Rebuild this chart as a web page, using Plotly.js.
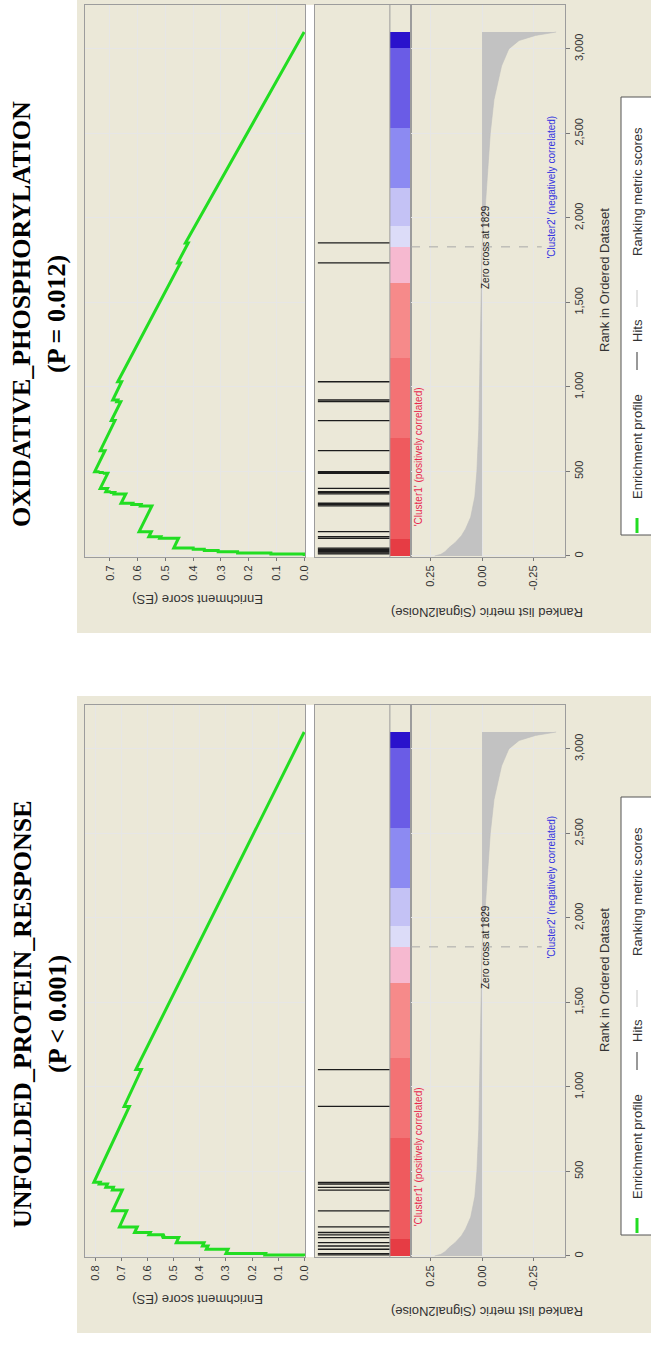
<!DOCTYPE html>
<html><head><meta charset="utf-8">
<script src="https://cdn.plot.ly/plotly-3.0.1.min.js"></script>
<style>html,body{margin:0;padding:0;background:#fff}</style>
</head><body><div id="chart" style="width:651px;height:1345px"></div>
<script>
// ---------------- DATA ----------------
const N_GENES = 3100;
const zeroCross = 1829;

// Ranked list metric (Signal2Noise), shared ranked list
const metricRank  = [0, 10, 25, 50, 80, 120, 160, 230, 350, 500, 750, 1000, 1300, 1600, 1829, 2000, 2200, 2500, 2700, 2900, 3000, 3050, 3080, 3100];
const metricValue = [0.23, 0.20, 0.18, 0.16, 0.13, 0.10, 0.08, 0.055, 0.035, 0.025, 0.016, 0.012, 0.008, 0.004, 0, -0.012, -0.022, -0.04, -0.058, -0.095, -0.13, -0.18, -0.26, -0.36];

// Colour bar bands (rank ranges)
const bandStart = [0, 100, 701, 1170, 1615, 1829, 1950, 2175, 2535, 3008];
const bandEnd   = [100, 701, 1170, 1615, 1829, 1950, 2175, 2535, 3008, 3100];
const bandColor = ['#e63c44', '#ef5a5e', '#f37274', '#f68a8a', '#f6b9d0', '#dcdcf8', '#c4c2f5', '#8c8af2', '#6a5ce6', '#2a12cc'];

// OXIDATIVE_PHOSPHORYLATION
const oxHits     = [12, 18, 25, 32, 40, 47, 105, 114, 144, 296, 304, 312, 367, 375, 380, 400, 489, 494, 499, 623, 801, 913, 923, 1031, 1734, 1852];
const oxEsBefore = [0.0, 0.12, 0.24, 0.31, 0.36, 0.40, 0.453, 0.517, 0.551, 0.549, 0.588, 0.618, 0.643, 0.683, 0.698, 0.709, 0.708, 0.723, 0.738, 0.718, 0.682, 0.661, 0.672, 0.658, 0.446, 0.418];
const oxEsAfter  = [0.12, 0.24, 0.31, 0.36, 0.40, 0.47, 0.52, 0.56, 0.595, 0.59, 0.62, 0.66, 0.685, 0.70, 0.715, 0.735, 0.725, 0.74, 0.755, 0.735, 0.695, 0.675, 0.69, 0.672, 0.456, 0.428];

// UNFOLDED_PROTEIN_RESPONSE
const upHits     = [6, 14, 40, 59, 79, 109, 125, 139, 172, 267, 390, 406, 426, 436, 885, 1103];
const upEsBefore = [0.0, 0.148, 0.292, 0.369, 0.384, 0.481, 0.536, 0.59, 0.64, 0.68, 0.697, 0.731, 0.754, 0.782, 0.670, 0.624];
const upEsAfter  = [0.15, 0.30, 0.375, 0.39, 0.49, 0.545, 0.595, 0.65, 0.708, 0.734, 0.735, 0.76, 0.785, 0.806, 0.69, 0.645];

const rankTicks = [0, 500, 1000, 1500, 2000, 2500, 3000];
const metricTicks = [-0.25, 0, 0.25];
const metricTickText = ['-0.25', '0.00', '0.25'];

// ---------------- LAYOUT HELPERS ----------------
const W = 651, H = 1345;
const fx = p => p / W;
const fy = p => 1 - p / H;
const FONT = 'Liberation Sans, Arial, sans-serif';
const GREEN = '#22dd22';
const GRID = '#e6e6e6';
const FRAME = '#9c9c9c';

const traces = [];
const layout = {
  width: W, height: H,
  margin: {l: 0, r: 0, t: 0, b: 0},
  paper_bgcolor: '#ffffff', plot_bgcolor: '#ffffff',
  showlegend: false,
  font: {family: FONT, size: 11, color: '#333'},
  shapes: [], annotations: [], bargap: 0
};

function ax(n, letter) { return letter + 'axis' + (n === 1 ? '' : n); }
function ref(n, letter) { return letter + (n === 1 ? '' : n); }

function addText(text, x, y, size, color, angle, extra) {
  layout.annotations.push(Object.assign({
    text: text, xref: 'paper', yref: 'paper', x: fx(x), y: fy(y),
    xanchor: 'center', yanchor: 'middle', showarrow: false, textangle: angle,
    font: {family: FONT, size: size, color: color}
  }, extra || {}));
}

function buildChart(k, dy, hits, esBefore, esAfter, esMax, title, pval) {
  const n1 = 1 + 3 * k, n2 = 2 + 3 * k, n3 = 3 + 3 * k;
  const yDom = [fy(557 + dy), fy(5 + dy)];
  const rankRange = [-6, 3260];

  // beige panel background
  layout.shapes.push({type: 'rect', xref: 'paper', yref: 'paper', layer: 'below',
    x0: fx(77), x1: fx(660), y0: fy(633 + dy), y1: fy(-4 + dy),
    fillcolor: '#ebe8d8', line: {width: 0}});
  layout.shapes.push({type: 'rect', xref: 'paper', yref: 'paper', layer: 'below',
    x0: fx(305), x1: fx(315), y0: yDom[0], y1: yDom[1],
    fillcolor: '#ffffff', line: {width: 0}});

  // enrichment profile
  const ex = [0], ey = [0];
  for (let i = 0; i < hits.length; i++) {
    ex.push(esBefore[i], esAfter[i]);
    ey.push(hits[i], hits[i]);
  }
  ex.push(0); ey.push(N_GENES);
  traces.push({type: 'scatter', mode: 'lines', x: ex, y: ey,
    xaxis: ref(n1, 'x'), yaxis: ref(n1, 'y'),
    line: {color: GREEN, width: 3}, hoverinfo: 'skip'});

  // hits
  const hx = [], hy = [];
  hits.forEach(h => { hx.push(0.03, 0.78, null); hy.push(h, h, null); });
  traces.push({type: 'scatter', mode: 'lines', x: hx, y: hy,
    xaxis: ref(n2, 'x'), yaxis: ref(n2, 'y'),
    line: {color: '#1c1c1c', width: 1.3}, hoverinfo: 'skip'});

  // colour bar
  traces.push({type: 'bar', orientation: 'v',
    x: bandStart.map(() => 0.89),
    y: bandStart.map((s, i) => bandEnd[i] - s),
    base: bandStart, width: 0.22,
    marker: {color: bandColor, line: {width: 0}},
    xaxis: ref(n2, 'x'), yaxis: ref(n2, 'y'), hoverinfo: 'skip'});

  // ranked metric
  traces.push({type: 'scatter', mode: 'lines', x: metricValue, y: metricRank,
    fill: 'tozerox', fillcolor: '#c2c2c2',
    line: {color: '#bdbdbd', width: 0.6},
    xaxis: ref(n3, 'x'), yaxis: ref(n3, 'y'), hoverinfo: 'skip'});

  const baseX = {showline: true, mirror: true, linecolor: FRAME, linewidth: 1, zeroline: false,
    fixedrange: true};

  layout[ax(n1, 'x')] = Object.assign({}, baseX, {
    domain: [fx(85), fx(305)], anchor: ref(n1, 'y'), range: [esMax, -0.003],
    tick0: 0, dtick: 0.1, tickformat: '.1f', tickangle: -90,
    ticks: 'outside', ticklen: 3, tickcolor: '#777',
    showgrid: true, gridcolor: GRID, tickfont: {size: 11, color: '#333'}});
  layout[ax(n1, 'y')] = Object.assign({}, baseX, {
    domain: yDom, anchor: ref(n1, 'x'), range: rankRange,
    tick0: 0, dtick: 500, showgrid: true, gridcolor: GRID, showticklabels: false, ticks: ''});

  layout[ax(n2, 'x')] = Object.assign({}, baseX, {
    domain: [fx(315), fx(411)], anchor: ref(n2, 'y'), range: [0, 1],
    showgrid: false, showticklabels: false, ticks: ''});
  layout[ax(n2, 'y')] = Object.assign({}, baseX, {
    domain: yDom, anchor: ref(n2, 'x'), range: rankRange,
    showgrid: false, showticklabels: false, ticks: ''});

  layout[ax(n3, 'x')] = Object.assign({}, baseX, {
    domain: [fx(411), fx(565)], anchor: ref(n3, 'y'), range: [0.345, -0.403],
    tickvals: metricTicks, ticktext: metricTickText, tickangle: -90,
    ticks: 'outside', ticklen: 3, tickcolor: '#777',
    showgrid: true, gridcolor: GRID, tickfont: {size: 11, color: '#333'}});
  layout[ax(n3, 'y')] = Object.assign({}, baseX, {
    domain: yDom, anchor: ref(n3, 'x'), range: rankRange, side: 'right',
    tickvals: rankTicks, tickformat: ',d', tickangle: -90,
    ticks: 'outside', ticklen: 4, tickcolor: '#777',
    showgrid: true, gridcolor: GRID, tickfont: {size: 11, color: '#333'}});

  // separator between hits and colour bar
  layout.shapes.push({type: 'line', xref: ref(n2, 'x'), yref: 'paper',
    x0: 0.78, x1: 0.78, y0: yDom[0], y1: yDom[1], line: {color: FRAME, width: 1}});

  // zero-cross dashed line
  layout.shapes.push({type: 'line', xref: ref(n3, 'x'), yref: ref(n3, 'y'),
    x0: 0.345, x1: -0.29, y0: zeroCross, y1: zeroCross,
    line: {color: '#a8a8a8', width: 1, dash: 'dash'}});

  layout.annotations.push({text: 'Zero cross at ' + zeroCross, xref: ref(n3, 'x'), yref: ref(n3, 'y'),
    x: -0.02, y: zeroCross, xanchor: 'center', yanchor: 'middle', showarrow: false, textangle: -90,
    font: {family: FONT, size: 10, color: '#222'}});
  layout.annotations.push({text: "'Cluster1' (positively correlated)", xref: ref(n3, 'x'), yref: ref(n3, 'y'),
    x: 0.31, y: 585, xanchor: 'center', yanchor: 'middle', showarrow: false, textangle: -90,
    font: {family: FONT, size: 10, color: '#e8284e'}});
  layout.annotations.push({text: "'Cluster2' (negatively correlated)", xref: ref(n3, 'x'), yref: ref(n3, 'y'),
    x: -0.34, y: 2180, xanchor: 'center', yanchor: 'middle', showarrow: false, textangle: -90,
    font: {family: FONT, size: 10, color: '#3434e0'}});

  // axis titles (upside-down in the rotated figure)
  addText('Enrichment score (ES)', 198, 600 + dy, 13, '#333', 180);
  addText('Ranked list metric (Signal2Noise)', 487, 612 + dy, 13, '#333', 180);
  addText('Rank in Ordered Dataset', 604, 280 + dy, 13, '#333', -90);

  // chart title
  const tf = {family: 'Liberation Serif, Times New Roman, serif', size: 26, color: '#000', weight: 'bold'};
  addText(title, 22, 314 + dy, 26, '#000', -90, {font: tf});
  addText(pval, 57, 314 + dy, 26, '#000', -90, {font: tf});

  // legend box
  layout.shapes.push({type: 'rect', xref: 'paper', yref: 'paper',
    x0: fx(621), x1: fx(670), y0: fy(535 + dy), y1: fy(97 + dy),
    fillcolor: '#ffffff', line: {color: '#555', width: 1}});
  layout.shapes.push({type: 'line', xref: 'paper', yref: 'paper',
    x0: fx(637), x1: fx(637), y0: fy(533 + dy), y1: fy(518 + dy), line: {color: GREEN, width: 3}});
  addText('Enrichment profile', 637, 447 + dy, 13, '#333', -90);
  layout.shapes.push({type: 'line', xref: 'paper', yref: 'paper',
    x0: fx(637), x1: fx(637), y0: fy(370 + dy), y1: fy(352 + dy), line: {color: '#333', width: 1}});
  addText('Hits', 637, 331 + dy, 13, '#333', -90);
  layout.shapes.push({type: 'line', xref: 'paper', yref: 'paper',
    x0: fx(637), x1: fx(637), y0: fy(307 + dy), y1: fy(290 + dy), line: {color: '#c8c8c8', width: 1}});
  addText('Ranking metric scores', 637, 192 + dy, 13, '#333', -90);
}

buildChart(0, 0, oxHits, oxEsBefore, oxEsAfter, 0.79, 'OXIDATIVE_PHOSPHORYLATION', '(P = 0.012)');
buildChart(1, 700, upHits, upEsBefore, upEsAfter, 0.84, 'UNFOLDED_PROTEIN_RESPONSE', '(P < 0.001)');

Plotly.newPlot('chart', traces, layout, {displayModeBar: false, staticPlot: true});
</script>
</body></html>
